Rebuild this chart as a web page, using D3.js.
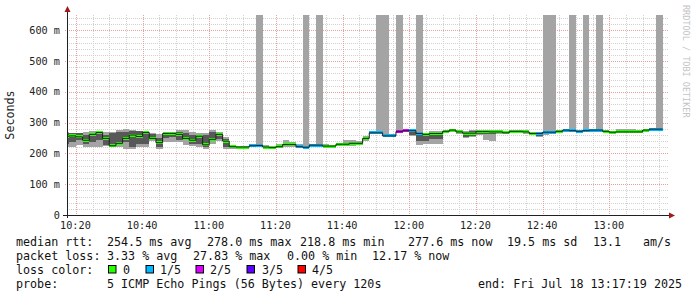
<!DOCTYPE html>
<html><head><meta charset="utf-8">
<script src="https://cdn.jsdelivr.net/npm/d3@7"></script>
<style>
body{margin:0;background:#fff}
svg{display:block}
text{font-family:"DejaVu Sans Mono",monospace;white-space:pre}
</style>
</head><body>
<svg id="c" width="697" height="297"></svg>
<script>
// ---- data ----
const stepTimes = ["10:16","10:18","10:20","10:22","10:24","10:26","10:28","10:30","10:32","10:34",
"10:36","10:38","10:40","10:42","10:44","10:46","10:48","10:50","10:52","10:54",
"10:56","10:58","11:00","11:02","11:04","11:06","11:08","11:10","11:12","11:14",
"11:16","11:18","11:20","11:22","11:24","11:26","11:28","11:30","11:32","11:34",
"11:36","11:38","11:40","11:42","11:44","11:46","11:48","11:50","11:52","11:54",
"11:56","11:58","12:00","12:02","12:04","12:06","12:08","12:10","12:12","12:14",
"12:16","12:18","12:20","12:22","12:24","12:26","12:28","12:30","12:32","12:34",
"12:36","12:38","12:40","12:42","12:44","12:46","12:48","12:50","12:52","12:54",
"12:56","12:58","13:00","13:02","13:04","13:06","13:08","13:10","13:12","13:14"];
// median rtt (ms)
const median = [256,257,254,243,262,268,249,225,233,249,
260,255,268,249,235,265,265,262,249,243,
256,228,246,262,240,222,221,221,225,226,
221,219,222,229,229,222,220,227,227,224,
224,230,230,233,233,249,267,267,257,257,
271,274,274,265,262,265,265,272,276,270,
266,266,271,271,270,270,267,272,272,270,
265,265,269,269,272,276,274,272,274,276,
276,272,269,270,270,270,270,276,279,279];
// lost pings (of 5)
const loss = [0,0,0,0,0,0,0,0,0,0,
0,0,0,0,0,0,0,0,0,0,
0,0,0,0,0,0,0,0,1,1,
0,0,0,0,0,1,1,1,1,0,
0,0,0,0,0,0,1,1,1,1,
2,2,1,1,0,0,0,0,0,0,
0,0,0,0,0,0,0,0,0,0,
0,1,1,1,0,1,1,1,1,1,
1,0,0,0,0,0,0,0,1,1];
// smoke: sorted pings (ms); 999 = beyond chart top
const pingMin = [220,222,227,222,222,222,225,220,222,216,
216,220,222,240,216,238,238,238,227,224,
222,216,232,240,216,216,218,218,220,222,
218,217,219,220,222,219,218,224,225,222,
222,224,225,224,226,240,262,264,254,254,
266,270,257,229,231,231,231,268,272,262,
250,252,260,245,241,264,262,266,268,264,
260,254,260,262,268,272,270,268,270,272,
272,270,266,268,268,268,268,272,276,276];
const ping2 = [232,237,243,232,238,243,227,223,238,238,
222,232,232,248,222,250,252,243,243,232,
232,222,248,248,222,219,219,219,222,224,
219,218,220,225,225,220,219,225,226,223,
223,227,228,228,230,244,263,265,255,256,
268,272,260,241,241,247,247,270,274,265,
254,258,264,262,262,267,264,268,270,267,
262,258,264,264,270,274,272,270,272,274,
274,271,268,269,269,269,269,274,277,277];
const ping4 = [265,265,265,260,267,265,260,268,270,270,
272,272,270,262,250,265,265,270,265,260,
260,260,270,265,248,223,222,223,227,230,
225,222,228,235,232,227,225,229,230,227,
226,232,235,237,237,255,270,270,262,262,
274,276,276,267,265,270,270,274,278,272,
270,274,272,272,271,272,270,274,274,272,
268,268,272,272,274,278,276,274,276,278,
278,274,272,274,274,274,272,278,281,281];
const pingMax = [270,267,267,270,273,273,270,270,276,278,
276,274,272,265,262,267,267,276,276,270,
265,265,276,270,254,227,223,225,230,999,
227,224,232,243,237,230,999,230,999,230,
228,233,243,243,240,257,272,999,999,264,
999,278,278,999,267,272,272,276,280,274,
272,276,274,274,273,274,272,276,275,276,
270,270,999,999,276,280,999,276,999,280,
999,276,274,278,278,278,274,280,283,999];

const yTickValues = [0,100,200,300,400,500,600];
const yTickLabels = ["0","100 m","200 m","300 m","400 m","500 m","600 m"];
const xTickLabels = ["10:20","10:40","11:00","11:20","11:40","12:00","12:20","12:40","13:00"];
const lossColorLabels = ["0","1/5","2/5","3/5","4/5"];
const lossColors = ["#26ff00","#00b8ff","#dd00ff","#5e00ff","#ff0000"];
const startTime = "10:17:19", endTime = "13:17:19";
const stats1 = ["median rtt:","254.5 ms avg","278.0 ms max","218.8 ms min","277.6 ms now","19.5 ms sd","13.1","am/s"];
const stats2 = ["packet loss:","3.33 % avg","27.83 % max","0.00 % min","12.17 % now"];
const probeText = ["probe:","5 ICMP Echo Pings (56 Bytes) every 120s","end: Fri Jul 18 13:17:19 2025"];

// ---- drawing ----
const svg = d3.select("#c");
const pt = d3.timeParse("%Y-%m-%d %H:%M:%S");
const T = s => pt("2025-07-18 " + (s.length === 5 ? s + ":00" : s));
const L = 67, R = 667, TOP = 15, BOT = 215;
const x = d3.scaleTime().domain([T(startTime), T(endTime)]).range([L, R]);
const y = d3.scaleLinear().domain([0, 650]).range([BOT, TOP]).clamp(true);

// grid
const g = svg.append("g");
const minorX = d3.timeMinute.every(5).range(T(startTime), T(endTime));
const majorX = d3.timeMinute.every(20).range(T(startTime), T(endTime));
const isMajorX = d => d.getMinutes() % 20 === 0;
g.selectAll(".vmin").data(minorX.filter(d => !isMajorX(d))).join("line")
  .attr("x1", d => Math.round(x(d)) + 0.5).attr("x2", d => Math.round(x(d)) + 0.5)
  .attr("y1", TOP).attr("y2", BOT).attr("stroke", "#d2d2d2").attr("stroke-dasharray", "1,1");
const minorY = d3.range(0, 650, 20).filter(v => v % 100 !== 0);
g.selectAll(".hmin").data(minorY).join("line")
  .attr("y1", d => Math.round(y(d)) + 0.5).attr("y2", d => Math.round(y(d)) + 0.5)
  .attr("x1", L).attr("x2", R + 2).attr("stroke", "#d2d2d2").attr("stroke-dasharray", "1,1");
g.selectAll(".vmaj").data(majorX).join("line")
  .attr("x1", d => Math.round(x(d)) + 0.5).attr("x2", d => Math.round(x(d)) + 0.5)
  .attr("y1", TOP).attr("y2", BOT + 2).attr("stroke", "#e8a0a0").attr("stroke-dasharray", "1,1");
g.selectAll(".hmaj").data(yTickValues.slice(1)).join("line")
  .attr("y1", d => Math.round(y(d)) + 0.5).attr("y2", d => Math.round(y(d)) + 0.5)
  .attr("x1", L - 2).attr("x2", R + 2).attr("stroke", "#e8a0a0").attr("stroke-dasharray", "1,1");

// smoke
const idx = d3.range(stepTimes.length);
const sx0 = i => Math.max(L, x(T(stepTimes[i])));
const sx1 = i => Math.min(R, x(d3.timeMinute.offset(T(stepTimes[i]), 2)));
const plot = svg.append("g").attr("shape-rendering", "crispEdges");
function band(lo, hi, color) {
  plot.append("g").selectAll("rect").data(idx).join("rect")
    .attr("x", i => sx0(i)).attr("width", i => sx1(i) - sx0(i))
    .attr("y", i => y(hi[i])).attr("height", i => y(lo[i]) - y(hi[i]))
    .attr("fill", color);
}
band(ping4, pingMax, "#a4a4a4");
band(pingMin, ping2, "#a4a4a4");
band(ping2, ping4, "#585858");

// median black step line
const pts = idx.map(i => [sx0(i), y(median[i])]);
pts.push([sx1(idx.length - 1), y(median[idx.length - 1])]);
svg.append("path").attr("d", d3.line().curve(d3.curveStepAfter)(pts))
  .attr("fill", "none").attr("stroke", "#202020").attr("stroke-width", 1);
// median colored by loss
plot.append("g").selectAll("rect").data(idx).join("rect")
  .attr("x", i => sx0(i)).attr("width", i => sx1(i) - sx0(i))
  .attr("y", i => y(median[i]) - 1.5).attr("height", 3)
  .attr("fill", i => lossColors[loss[i]]);

// axes
svg.append("line").attr("x1", L - 4).attr("x2", R + 3).attr("y1", BOT + 0.5).attr("y2", BOT + 0.5)
  .attr("stroke", "#202020");
svg.append("line").attr("x1", L + 0.5).attr("x2", L + 0.5).attr("y1", BOT + 3).attr("y2", 10)
  .attr("stroke", "#202020");
svg.append("path").attr("d", `M${R + 2},${BOT - 2.5}L${R + 8},${BOT + 0.5}L${R + 2},${BOT + 3.5}Z`).attr("fill", "#a01818");
svg.append("path").attr("d", `M${L - 2.5},${12}L${L + 0.5},${6}L${L + 3.5},${12}Z`).attr("fill", "#a01818");

// tick labels
svg.append("g").selectAll("text").data(yTickValues).join("text")
  .attr("x", 60).attr("y", d => y(d)).attr("dy", "0.35em").attr("text-anchor", "end")
  .attr("font-size", "10.2px").attr("fill", "#222").text((d, i) => yTickLabels[i]);
svg.append("g").selectAll("text").data(majorX).join("text")
  .attr("x", d => x(d) - 0.5).attr("y", 225).attr("dy", "0.35em").attr("text-anchor", "middle")
  .attr("font-size", "10.2px").attr("fill", "#222").text((d, i) => xTickLabels[i]);

// y title
svg.append("text").attr("transform", "translate(14,115) rotate(-90)").attr("text-anchor", "middle")
  .attr("font-size", "11.7px").attr("fill", "#222").text("Seconds");
// watermark
svg.append("text").attr("transform", "translate(683,5) rotate(90)").attr("text-anchor", "start")
  .attr("font-size", "8.5px").attr("fill", "#c4c4c4").text("RRDTOOL / TOBI OETIKER");

// legend
const lg = svg.append("g").attr("font-size", "11.7px").attr("fill", "#111");
const s1x = [16,107,207,300,408,507,593,643];
stats1.forEach((s, i) => lg.append("text").attr("x", s1x[i]).attr("y", 245.5).text(s));
const s2x = [16,107,193,287,372];
stats2.forEach((s, i) => lg.append("text").attr("x", s2x[i]).attr("y", 259.5).text(s));
lg.append("text").attr("x", 16).attr("y", 273.5).text("loss color:");
const boxX = [108.5,146,196,247,298];
const labX = [123,160,210,262,312];
lossColorLabels.forEach((s, i) => {
  lg.append("rect").attr("x", boxX[i]).attr("y", 265.5).attr("width", 7.5).attr("height", 7.5)
    .attr("fill", lossColors[i]).attr("stroke", "#000").attr("stroke-width", 1);
  lg.append("text").attr("x", labX[i]).attr("y", 273.5).text(s);
});
const px = [16,107,478];
probeText.forEach((s, i) => lg.append("text").attr("x", px[i]).attr("y", 287.5).text(s));
</script>
</body></html>
